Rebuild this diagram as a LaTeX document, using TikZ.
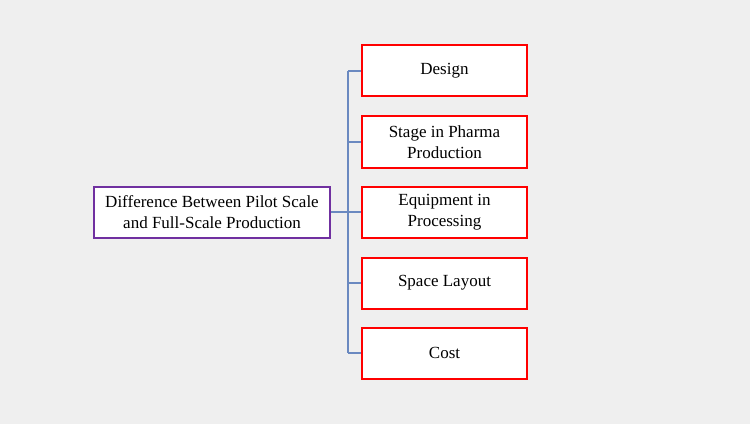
\documentclass[tikz,border=0pt]{standalone}
\usepackage{fontspec}
\setmainfont{Liberation Serif}
\definecolor{bg}{HTML}{EFEFEF}
\definecolor{linec}{HTML}{6A89C0}
\definecolor{purp}{HTML}{7030A0}
\begin{document}
\begin{tikzpicture}[x=1pt,y=1pt,
  txt/.style={align=center, font=\fontsize{17}{20.5}\selectfont},
  item/.style={txt, draw=red, line width=2pt, fill=white, minimum width=165pt, minimum height=51pt, inner sep=0pt},
  rootbox/.style={txt, draw=purp, line width=2pt, fill=white, minimum width=236pt, minimum height=51pt, inner sep=0pt},
  conn/.style={draw=linec, line width=1.3pt}]
\fill[bg] (0,0) rectangle (750,424);
\useasboundingbox (0,0) rectangle (750,424);
\node[rootbox] (root) at (212,212) {Difference Between Pilot Scale\\and Full-Scale Production};
\node[item] (a) at (444.5,353) {Design};
\node[item] (b) at (444.5,282) {Stage in Pharma\\Production};
\node[item] (c) at (444.5,212) {Equipment in\\Processing};
\node[item] (d) at (444.5,141) {Space Layout};
\node[item] (e) at (444.5,71) {Cost};
\coordinate (j) at (348,212);
\coordinate (ta) at (348,353);
\coordinate (te) at (348,71);
\coordinate (tb) at (348,282);
\coordinate (td) at (348,141);
\draw[conn] (root.east) -- (j);
\draw[conn] (ta) -- (te);
\draw[conn] (ta) -- (a.west);
\draw[conn] (tb) -- (b.west);
\draw[conn] (j) -- (c.west);
\draw[conn] (td) -- (d.west);
\draw[conn] (te) -- (e.west);
\end{tikzpicture}
\end{document}
